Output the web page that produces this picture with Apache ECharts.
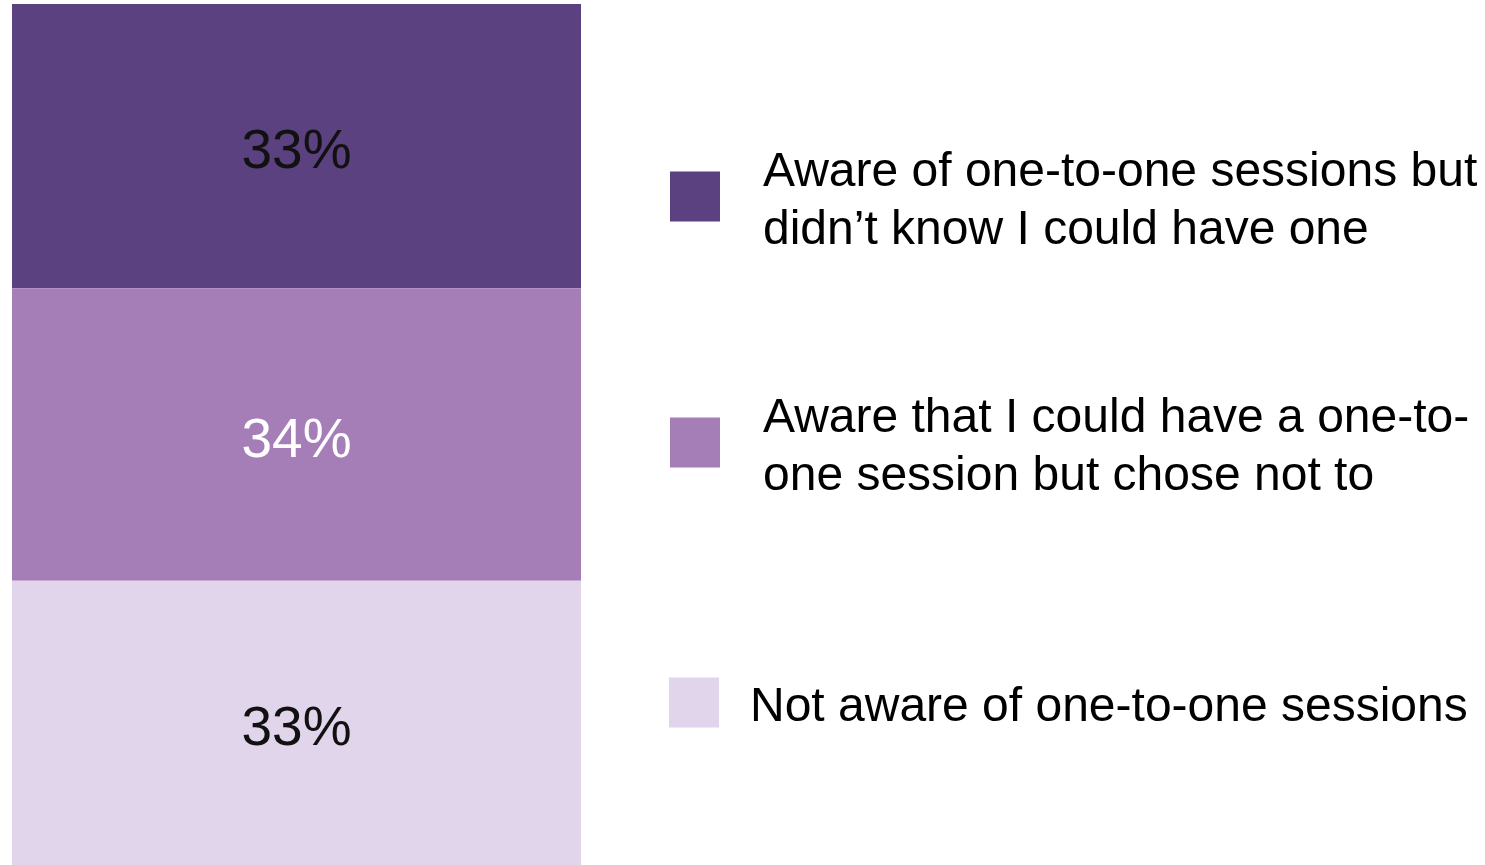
<!DOCTYPE html>
<html>
<head>
<meta charset="utf-8">
<script src="https://cdn.jsdelivr.net/npm/echarts@6/dist/echarts.min.js"></script>
<style>html,body{margin:0;padding:0;background:#fff;overflow:hidden}#c{width:1485px;height:865px}</style>
</head>
<body>
<div id="c"></div>
<script>
var categories = ['All'];
var seriesNames = [
  'Aware of one-to-one sessions but didn\u2019t know I could have one',
  'Aware that I could have a one-to-one session but chose not to',
  'Not aware of one-to-one sessions'
];
var legendLines = [
  ['Aware of one-to-one sessions but', 'didn\u2019t know I could have one'],
  ['Aware that I could have a one-to-', 'one session but chose not to'],
  ['Not aware of one-to-one sessions']
];
var values = [33, 34, 33];
var colors = ['#5B417F', '#A57DB7', '#E1D5EB'];
var labelColors = ['#111111', '#ffffff', '#111111'];

var chart = echarts.init(document.getElementById('c'));
var series = seriesNames.map(function (n, i) {
  return {
    name: n,
    type: 'bar',
    stack: 'total',
    barWidth: '100%',
    data: [values[i]],
    itemStyle: { color: colors[i] },
    label: {
      show: true,
      position: 'inside',
      formatter: '{c}%',
      color: labelColors[i],
      fontFamily: 'Liberation Sans, Arial, sans-serif',
      fontSize: 55,
      offset: [0, 7]
    }
  };
});
var legendTops = [138, 384, 673];
var legendLefts = [670, 670, 669];
var textPads = [[0, 0, 0, 38], [0, 0, 0, 38], [0, 0, 0, 26]];
var legends = seriesNames.map(function (n, i) {
  return {
    data: [n],
    left: legendLefts[i],
    top: legendTops[i],
    padding: 0,
    itemWidth: 50,
    itemHeight: 50,
    icon: 'rect',
    selectedMode: false,
    formatter: function () {
      return '{s| }\n' + legendLines[i].map(function (l) { return '{a|' + l + '}'; }).join('\n');
    },
    textStyle: {
      fontFamily: 'Liberation Sans, Arial, sans-serif',
      fontSize: 48,
      color: '#000',
      padding: textPads[i],
      rich: {
        s: { fontSize: 1, lineHeight: 10 },
        a: {
          fontFamily: 'Liberation Sans, Arial, sans-serif',
          fontSize: 48,
          lineHeight: 58,
          color: '#000'
        }
      }
    }
  };
});
chart.setOption({
  animation: false,
  grid: { left: 12, top: 4, width: 569, bottom: -5 },
  xAxis: { type: 'category', data: categories, show: false },
  yAxis: { type: 'value', min: 0, max: 100, inverse: true, show: false },
  legend: legends,
  series: series
});
</script>
</body>
</html>
